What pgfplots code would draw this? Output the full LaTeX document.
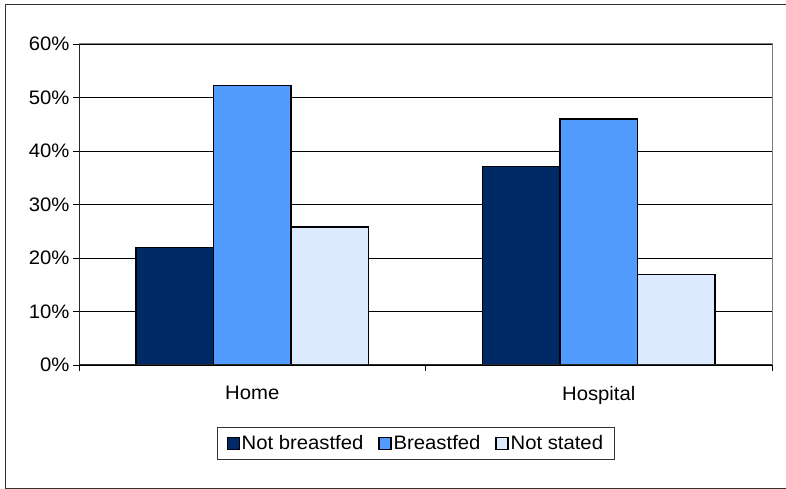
\documentclass[border=0pt]{standalone}
\usepackage{pgfplots}
\pgfplotsset{compat=1.18}
\usepackage{fontspec}
\setmainfont{Liberation Sans}[FakeStretch=1.04]
\definecolor{cdark}{RGB}{0,42,102}
\definecolor{cmid}{RGB}{82,155,255}
\definecolor{clight}{RGB}{220,234,255}
\definecolor{frameg}{RGB}{128,128,128}
\begin{document}
\begin{tikzpicture}
\useasboundingbox (0,0) rectangle (786bp,489bp);
\fill[white] (0,0) rectangle (786bp,489bp);
\draw[black!80, line width=1bp] (790bp,1bp) -- (5bp,1bp) -- (5bp,484bp) -- (790bp,484bp);
\begin{axis}[
  at={(79bp,124bp)}, anchor=south west,
  width=693bp, height=321bp, scale only axis,
  xmin=-0.5, xmax=1.5, ymin=0, ymax=60,
  ybar=0pt, bar width=77.5bp,
  axis line style={draw=frameg, line width=1bp},
  ytick={0,10,20,30,40,50,60},
  yticklabels={0\%,10\%,20\%,30\%,40\%,50\%,60\%},
  ymajorgrids, grid style={black, line width=0.8bp},
  xtick={-0.5,0.5,1.5}, xticklabels={},
  extra x ticks={0,1}, extra x tick labels={Home,Hospital},
  extra x tick style={major tick length=0pt, grid=none, xticklabel style={yshift=-18bp}},
  xtick pos=bottom, ytick pos=left,
  tick align=outside, major tick length=6bp,
  tick style={black, line width=0.8bp},
  tick label style={font=\fontsize{19.5bp}{23bp}\selectfont},
  legend columns=3,
  legend style={at={(0.486,-0.193)}, anchor=north, draw=black!80, line width=0.8bp,
    font=\fontsize{19.5bp}{23bp}\selectfont, inner xsep=9bp, inner ysep=6bp,
    /tikz/every even column/.append style={column sep=13bp}},
  legend image code/.code={\draw[#1, draw=black, line width=1.2bp] (0bp,-6bp) rectangle (12bp,6bp);},
  after end axis/.code={
    \draw[black!85, line width=1bp] (rel axis cs:0,1) -- (rel axis cs:0,0) -- (rel axis cs:1,0);
  },
]
\addplot[fill=cdark, draw=black, line width=1.3bp] coordinates {(0,22) (1,37.1)};
\addplot[fill=cmid, draw=black, line width=1.3bp] coordinates {(0,52.2) (1,46)};
\addplot[fill=clight, draw=black, line width=1.3bp] coordinates {(0,25.8) (1,16.9)};
\legend{Not breastfed,Breastfed,Not stated}
\end{axis}
\end{tikzpicture}
\end{document}
